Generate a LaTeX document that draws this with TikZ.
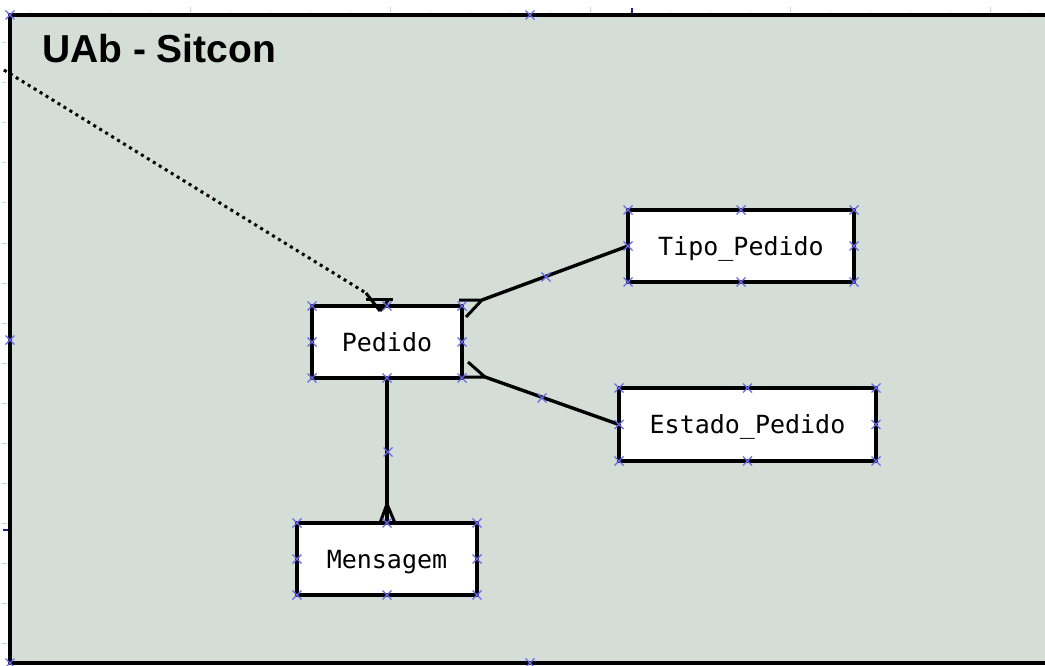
\documentclass[tikz,border=0pt]{standalone}
\usepackage{fontspec}
\setmainfont{Liberation Sans}
\newfontfamily\entfont{DejaVu Sans Mono}
\usetikzlibrary{calc}
\definecolor{bgc}{RGB}{213,222,214}
\definecolor{markc}{RGB}{105,105,235}
\definecolor{tickc}{RGB}{200,218,218}
\definecolor{navyc}{RGB}{30,30,140}
\begin{document}
\begin{tikzpicture}[x=1pt,y=-1pt,
  entity/.style={draw,line width=3.6pt,fill=white,inner sep=0pt,outer sep=0pt,
    font=\entfont\fontsize{25}{30}\selectfont,text height=18pt,text depth=0pt,minimum height=72pt},
  conn/.style={line width=3.4pt},
  foot/.style={line width=3pt},
  dotline/.style={line width=3pt,dash pattern=on 3pt off 4pt},
  tick/.style={tickc,line width=1pt},
  xmark/.pic={\draw[markc,line width=1.2pt] (-4.5,-4.5) -- (4.5,4.5) (-4.5,4.5) -- (4.5,-4.5);}]
\useasboundingbox (0,0) rectangle (1045,666);
\clip (0,0) rectangle (1045,666);
\fill[white] (0,0) rectangle (1045,666);
% ruler ticks
\foreach \xx in {30,70,...,1030} \draw[tick] (\xx,12) -- (\xx,15);
\foreach \xx in {190,390,590,790,990} \draw[tick] (\xx,7) -- (\xx,15);
\foreach \yy in {43,83,...,643} \draw[tick] (2,\yy) -- (7,\yy);
\draw[navyc,line width=1.5pt] (632,8) -- (632,15);
\draw[navyc,line width=1.5pt] (3,530) -- (9,530);
% frame
\fill[bgc] (10,15) rectangle (1060,663);
\draw[line width=4.5pt] (1060,15) -- (10,15) -- (10,663) -- (1060,663);
% title
\node[anchor=base west,inner sep=0pt,font=\bfseries\fontsize{39}{44}\selectfont] (title) at (42,63) {UAb - Sitcon};
% entities
\node[entity,minimum width=150pt] (ped) at (387,342) {Pedido};
\node[entity,minimum width=226pt] (tp) at (741,246) {Tipo\_Pedido};
\node[entity,minimum width=257pt,minimum height=73pt] (est) at (747.5,424.5) {Estado\_Pedido};
\node[entity,minimum width=180pt] (men) at (387,559) {Mensagem};
% Pedido - Tipo_Pedido
\coordinate (a1) at (482,300);
\coordinate (f1a) at (459,300);
\coordinate (f1b) at (466,317);
\draw[conn] (tp.west) -- (a1);
\draw[foot] (f1a) -- (a1) -- (f1b);
% Pedido - Estado_Pedido
\coordinate (a2) at (485,377);
\coordinate (f2a) at (461,377);
\coordinate (f2b) at (468,362);
\draw[conn] (est.west) -- (a2);
\draw[foot] (f2a) -- (a2) -- (f2b);
% Pedido - Mensagem
\draw[conn] (ped.south) -- (men.north);
\draw[foot] ($(men.north)+(-7,0)$) -- ($(men.north)+(0,-19)$) -- ($(men.north)+(8,0)$);
% dotted relationship into Pedido
\coordinate (d0) at (4,70);
\coordinate (d1) at (366,293);
\coordinate (d2) at (380,311);
\draw[dotline] (d0) -- (d1);
\draw[foot] (d1) -- (d2);
\draw[foot] (366,299) -- (393,299);
\draw[foot] (389,299) -- (d2);
% selection markers
\foreach \n in {ped,tp,est,men}
  \foreach \a in {north west,north,north east,east,south east,south,south west,west}
    \pic at (\n.\a) {xmark};
\foreach \p in {(546,277),(542,398),(388,452),(10,15),(530,15),(10,340),(10,663),(530,663)}
  \pic at \p {xmark};
\end{tikzpicture}
\end{document}
